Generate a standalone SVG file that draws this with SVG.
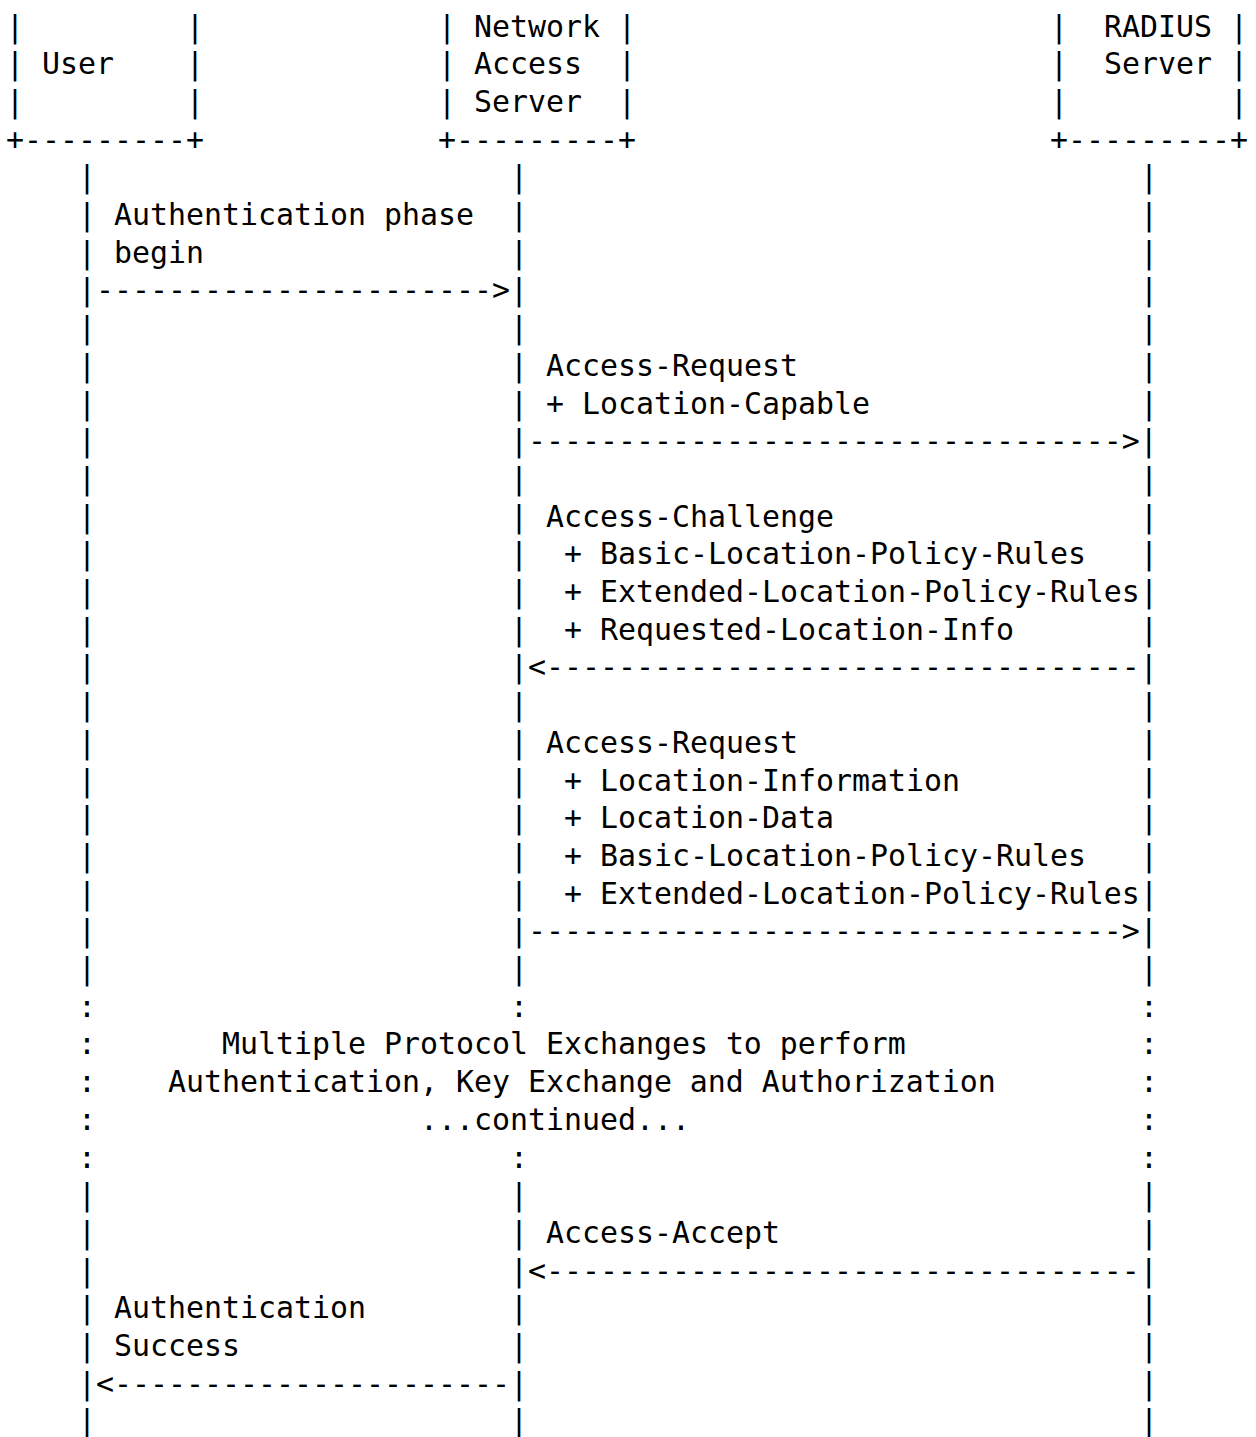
<svg xmlns="http://www.w3.org/2000/svg" width="1256" height="1437" viewBox="0 0 1256 1437" xml:space="preserve">
<style>
text { font-family: "DejaVu Sans Mono", "Liberation Mono", monospace; font-size: 29.9px; fill: #000; white-space: pre; }
</style>
<rect x="0" y="0" width="1256" height="1437" fill="#fff"/>
<g id="user">
<text x="6" y="36.5">|         |</text>
<text x="6" y="74.2">| User    |</text>
<text x="6" y="111.9">|         |</text>
<text x="6" y="149.6">+---------+</text>
</g>
<g id="nas">
<text x="438" y="36.5">| Network |</text>
<text x="438" y="74.2">| Access  |</text>
<text x="438" y="111.9">| Server  |</text>
<text x="438" y="149.6">+---------+</text>
</g>
<g id="radius">
<text x="1050" y="36.5">|  RADIUS |</text>
<text x="1050" y="74.2">|  Server |</text>
<text x="1050" y="111.9">|         |</text>
<text x="1050" y="149.6">+---------+</text>
</g>
<g id="connectors">
<g id="lifeline-user">
<text x="78" y="187.3">|</text>
<text x="78" y="225.0">|</text>
<text x="78" y="262.7">|</text>
<text x="78" y="338.1">|</text>
<text x="78" y="375.8">|</text>
<text x="78" y="413.5">|</text>
<text x="78" y="451.2">|</text>
<text x="78" y="488.9">|</text>
<text x="78" y="526.6">|</text>
<text x="78" y="564.3">|</text>
<text x="78" y="602.0">|</text>
<text x="78" y="639.7">|</text>
<text x="78" y="677.4">|</text>
<text x="78" y="715.1">|</text>
<text x="78" y="752.8">|</text>
<text x="78" y="790.5">|</text>
<text x="78" y="828.2">|</text>
<text x="78" y="865.9">|</text>
<text x="78" y="903.6">|</text>
<text x="78" y="941.3">|</text>
<text x="78" y="979.0">|</text>
<text x="78" y="1016.7">:</text>
<text x="78" y="1054.4">:</text>
<text x="78" y="1092.1">:</text>
<text x="78" y="1129.8">:</text>
<text x="78" y="1167.5">:</text>
<text x="78" y="1205.2">|</text>
<text x="78" y="1242.9">|</text>
<text x="78" y="1280.6">|</text>
<text x="78" y="1318.3">|</text>
<text x="78" y="1356.0">|</text>
<text x="78" y="1431.4">|</text>
</g>
<g id="lifeline-nas">
<text x="510" y="187.3">|</text>
<text x="510" y="225.0">|</text>
<text x="510" y="262.7">|</text>
<text x="510" y="338.1">|</text>
<text x="510" y="375.8">|</text>
<text x="510" y="413.5">|</text>
<text x="510" y="488.9">|</text>
<text x="510" y="526.6">|</text>
<text x="510" y="564.3">|</text>
<text x="510" y="602.0">|</text>
<text x="510" y="639.7">|</text>
<text x="510" y="715.1">|</text>
<text x="510" y="752.8">|</text>
<text x="510" y="790.5">|</text>
<text x="510" y="828.2">|</text>
<text x="510" y="865.9">|</text>
<text x="510" y="903.6">|</text>
<text x="510" y="979.0">|</text>
<text x="510" y="1016.7">:</text>
<text x="510" y="1167.5">:</text>
<text x="510" y="1205.2">|</text>
<text x="510" y="1242.9">|</text>
<text x="510" y="1318.3">|</text>
<text x="510" y="1356.0">|</text>
<text x="510" y="1431.4">|</text>
</g>
<g id="lifeline-radius">
<text x="1140" y="187.3">|</text>
<text x="1140" y="225.0">|</text>
<text x="1140" y="262.7">|</text>
<text x="1140" y="300.4">|</text>
<text x="1140" y="338.1">|</text>
<text x="1140" y="375.8">|</text>
<text x="1140" y="413.5">|</text>
<text x="1140" y="488.9">|</text>
<text x="1140" y="526.6">|</text>
<text x="1140" y="564.3">|</text>
<text x="1140" y="602.0">|</text>
<text x="1140" y="639.7">|</text>
<text x="1140" y="715.1">|</text>
<text x="1140" y="752.8">|</text>
<text x="1140" y="790.5">|</text>
<text x="1140" y="828.2">|</text>
<text x="1140" y="865.9">|</text>
<text x="1140" y="903.6">|</text>
<text x="1140" y="979.0">|</text>
<text x="1140" y="1016.7">:</text>
<text x="1140" y="1054.4">:</text>
<text x="1140" y="1092.1">:</text>
<text x="1140" y="1129.8">:</text>
<text x="1140" y="1167.5">:</text>
<text x="1140" y="1205.2">|</text>
<text x="1140" y="1242.9">|</text>
<text x="1140" y="1318.3">|</text>
<text x="1140" y="1356.0">|</text>
<text x="1140" y="1393.7">|</text>
<text x="1140" y="1431.4">|</text>
</g>
<g id="arrows">
<text x="78" y="300.4">|----------------------&gt;|</text>
<text x="510" y="451.2">|---------------------------------&gt;|</text>
<text x="510" y="677.4">|&lt;---------------------------------|</text>
<text x="510" y="941.3">|---------------------------------&gt;|</text>
<text x="510" y="1280.6">|&lt;---------------------------------|</text>
<text x="78" y="1393.7">|&lt;----------------------|</text>
</g>
</g>
<g id="labels">
<text x="114" y="225.0">Authentication phase</text>
<text x="114" y="262.7">begin</text>
<text x="546" y="375.8">Access-Request</text>
<text x="546" y="413.5">+ Location-Capable</text>
<text x="546" y="526.6">Access-Challenge</text>
<text x="564" y="564.3">+ Basic-Location-Policy-Rules</text>
<text x="564" y="602.0">+ Extended-Location-Policy-Rules</text>
<text x="564" y="639.7">+ Requested-Location-Info</text>
<text x="546" y="752.8">Access-Request</text>
<text x="564" y="790.5">+ Location-Information</text>
<text x="564" y="828.2">+ Location-Data</text>
<text x="564" y="865.9">+ Basic-Location-Policy-Rules</text>
<text x="564" y="903.6">+ Extended-Location-Policy-Rules</text>
<text x="222" y="1054.4">Multiple Protocol Exchanges to perform</text>
<text x="168" y="1092.1">Authentication, Key Exchange and Authorization</text>
<text x="420" y="1129.8">...continued...</text>
<text x="546" y="1242.9">Access-Accept</text>
<text x="114" y="1318.3">Authentication</text>
<text x="114" y="1356.0">Success</text>
</g>
</svg>
